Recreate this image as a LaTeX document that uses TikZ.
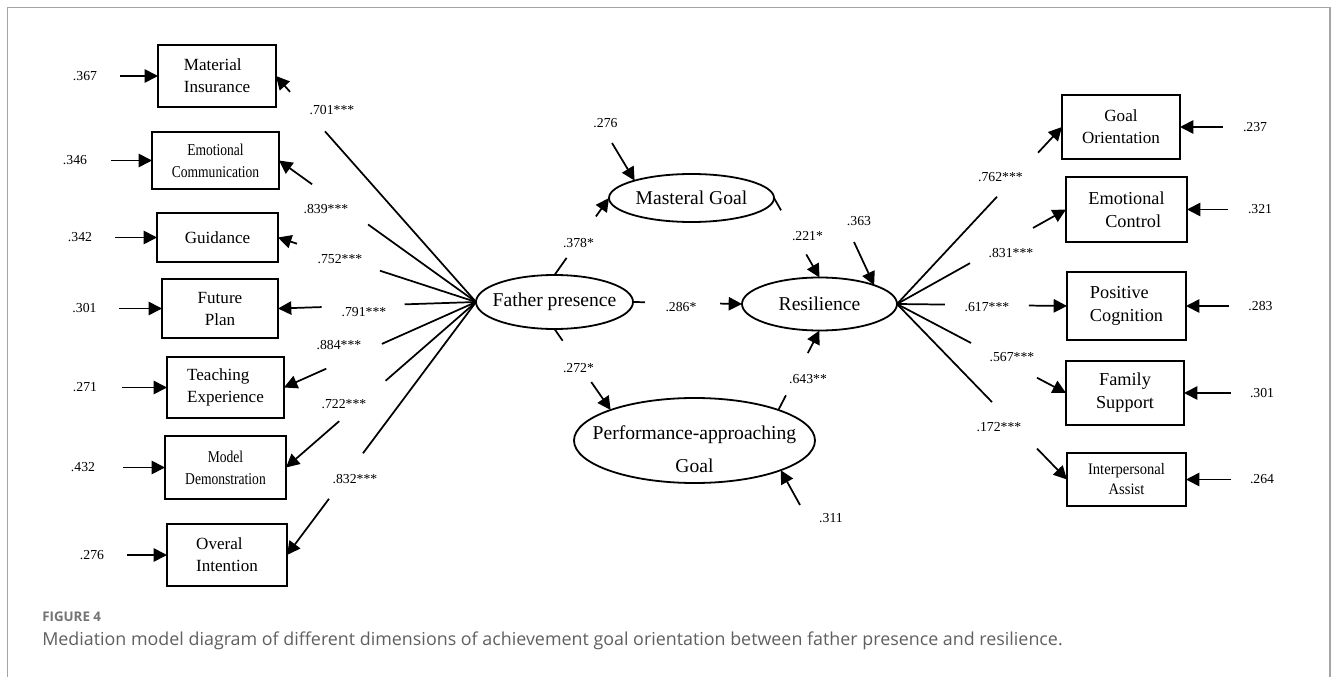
\documentclass[tikz,border=0pt]{standalone}
\usepackage{fontspec}
\setmainfont{Liberation Serif}
\newfontfamily\capfont{Open Sans}
\usepackage{graphicx}
\usetikzlibrary{arrows.meta,shapes.geometric,calc}
\definecolor{capgray}{RGB}{95,95,95}
\definecolor{figgray}{RGB}{115,115,115}
\definecolor{framegray}{RGB}{165,165,165}
\newcommand{\condtext}[2][0.82]{\scalebox{#1}[1]{#2}}

\begin{document}
\begin{tikzpicture}[x=0.75pt,y=0.75pt,yscale=-1,xscale=1,
  obsbox/.style={draw, line width=1.35pt, inner sep=0pt, outer sep=0pt, align=center, font=\fontsize{12.8}{16.5}\selectfont},
  rbox/.style={obsbox, font=\fontsize{13.7}{17.25}\selectfont},
  smallbox/.style={obsbox, font=\fontsize{12.4}{16.5}\selectfont},
  latent/.style={draw, ellipse, line width=1.35pt, inner sep=0pt, outer sep=0pt},
  lattext/.style={font=\fontsize{14.7}{24.75}\selectfont, align=center, inner sep=0pt},
  coef/.style={font=\fontsize{10.3}{12}\selectfont, inner sep=0pt},
  link/.style={line width=1.3pt},
  arr/.style={line width=1.3pt, -{Triangle[length=10pt,width=10pt]}}]
\useasboundingbox (0,0) rectangle (1331,677);

%Frame
\draw[framegray, line width=0.9pt] (7.5,677) -- (7.5,7.5) -- (1330,7.5) -- (1330,677);

%Latent variables
\node[latent, minimum width=117.75pt, minimum height=40.5pt, label={[lattext]center:Father presence}] (fp) at (554.5,302) {};
\node[latent, minimum width=123.75pt, minimum height=36pt, label={[lattext]center:Masteral Goal}] (mg) at (691.5,198) {};
\node[latent, minimum width=116.25pt, minimum height=39.75pt, label={[lattext]center:Resilience}] (res) at (819.5,304) {};
\node[latent, minimum width=180.75pt, minimum height=63.75pt, label={[lattext, yshift=-6.75pt]center:{Performance-approaching\\Goal}}] (pg) at (694.5,440.5) {};

%Left indicators
\node[obsbox, align=left, minimum width=88.5pt, minimum height=46.5pt] (mi) at (217,76) {Material\\Insurance};
\node[smallbox, minimum width=95.25pt, minimum height=42.75pt] (ec) at (215.5,160.5) {\condtext{Emotional}\\\condtext{Communication}};
\node[obsbox, minimum width=90.75pt, minimum height=36.75pt] (gu) at (217.5,237.5) {Guidance};
\node[obsbox, minimum width=87pt, minimum height=44.25pt] (fpl) at (220,308.5) {Future\\Plan};
\node[obsbox, align=left, minimum width=87.75pt, minimum height=45.75pt] (te) at (225.5,387.5) {Teaching\\Experience};
\node[smallbox, minimum width=90.75pt, minimum height=47.25pt] (md) at (225.5,467.5) {\condtext{Model}\\\condtext{Demonstration}};
\node[obsbox, align=left, minimum width=90pt, minimum height=46.5pt] (oi) at (227,555) {Overal\\Intention};

%Right indicators
\node[obsbox, minimum width=88.5pt, minimum height=48pt] (go) at (1121,127) {Goal\\Orientation};
\node[rbox, minimum width=90.75pt, minimum height=48.75pt] (ect) at (1126.5,209.5) {Emotional\\\hspace*{10pt}Control};
\node[rbox, align=left, minimum width=89.25pt, minimum height=51pt] (pc) at (1126.5,306) {Positive\\Cognition};
\node[rbox, minimum width=88.5pt, minimum height=48pt] (fs) at (1125,393) {Family\\Support};
\node[smallbox, font=\fontsize{12}{15}\selectfont, minimum width=89.25pt, minimum height=39.75pt] (ia) at (1126.5,479.5) {\condtext[0.91]{Interpersonal}\\\condtext[0.91]{Assist}};

%Loadings: father presence
\path (fp.west) -- coordinate[pos=.755] (mi1) coordinate[pos=.93] (mi2) (mi.east);
\draw[link] (fp.west) -- (mi1);
\draw[arr] (mi2) -- (mi.east);
\node[coef] (cmi) at (332,110) {.701***};

\path (fp.west) -- coordinate[pos=.548] (ec1) coordinate[pos=.832] (ec2) (ec.east);
\draw[link] (fp.west) -- (ec1);
\draw[arr] (ec2) -- (ec.east);
\node[coef] (cec) at (326,209) {.839***};

\path (fp.west) -- coordinate[pos=.485] (gu1) coordinate[pos=.904] (gu2) (gu.east);
\draw[link] (fp.west) -- (gu1);
\draw[arr] (gu2) -- (gu.east);
\node[coef] (cgu) at (340,259) {.752***};

\path (fp.west) -- coordinate[pos=.36] (fpl1) coordinate[pos=.78] (fpl2) (fpl.east);
\draw[link] (fp.west) -- (fpl1);
\draw[arr] (fpl2) -- (fpl.east);
\node[coef] (cfpl) at (364,312) {.791***};

\path (fp.west) -- coordinate[pos=.49] (te1) coordinate[pos=.78] (te2) (te.east);
\draw[link] (fp.west) -- (te1);
\draw[arr] (te2) -- (te.east);
\node[coef] (cte) at (339,345) {.884***};

\path (fp.west) -- coordinate[pos=.476] (md1) coordinate[pos=.72] (md2) (md.east);
\draw[link] (fp.west) -- (md1);
\draw[arr] (md2) -- (md.east);
\node[coef] (cmd) at (344,404) {.722***};

\path (fp.west) -- coordinate[pos=.598] (oi1) coordinate[pos=.778] (oi2) (oi.east);
\draw[link] (fp.west) -- (oi1);
\draw[arr] (oi2) -- (oi.east);
\node[coef] (coi) at (355,479) {.832***};

%Structural paths
\path (fp.north) -- coordinate[pos=.222] (p11) coordinate[pos=.76] (p12) (mg.west);
\draw[link] (fp.north) -- (p11);
\draw[arr] (p12) -- (mg.west);
\node[coef] (cp1) at (578.5,243) {.378*};

\path (fp.south) -- coordinate[pos=.145] (p21) coordinate[pos=.655] (p22) (pg.160);
\draw[link] (fp.south) -- (p21);
\draw[arr] (p22) -- (pg.160);
\node[coef] (cp2) at (578.5,368) {.272*};

\path (fp.east) -- coordinate[pos=.11] (p31) coordinate[pos=.80] (p32) (res.west);
\draw[link] (fp.east) -- (p31);
\draw[arr] (p32) -- (res.west);
\node[coef] (cp3) at (681,307) {.286*};

\path (mg.east) -- coordinate[pos=.155] (p41) coordinate[pos=.71] (p42) (res.north);
\draw[link] (mg.east) -- (p41);
\draw[arr] (p42) -- (res.north);
\node[coef] (cp4) at (807.5,236) {.221*};

\path (pg.20) -- coordinate[pos=.185] (p51) coordinate[pos=.716] (p52) (res.south);
\draw[link] (pg.20) -- (p51);
\draw[arr] (p52) -- (res.south);
\node[coef] (cp5) at (808,379) {.643**};

%Loadings: resilience
\path (res.east) -- coordinate[pos=.606] (go1) coordinate[pos=.855] (go2) (go.west);
\draw[link] (res.east) -- (go1);
\draw[arr] (go2) -- (go.west);
\node[coef] (cgo) at (1000.5,177) {.762***};

\path (res.east) -- coordinate[pos=.432] (ect1) coordinate[pos=.805] (ect2) (ect.west);
\draw[link] (res.east) -- (ect1);
\draw[arr] (ect2) -- (ect.west);
\node[coef] (cect) at (1011,253) {.831***};

\path (res.east) -- coordinate[pos=.282] (pc1) coordinate[pos=.776] (pc2) (pc.west);
\draw[link] (res.east) -- (pc1);
\draw[arr] (pc2) -- (pc.west);
\node[coef] (cpc) at (987,307) {.617***};

\path (res.east) -- coordinate[pos=.438] (fs1) coordinate[pos=.828] (fs2) (fs.west);
\draw[link] (res.east) -- (fs1);
\draw[arr] (fs2) -- (fs.west);
\node[coef] (cfs) at (1012,357) {.567***};

\path (res.east) -- coordinate[pos=.559] (ia1) coordinate[pos=.824] (ia2) (ia.west);
\draw[link] (res.east) -- (ia1);
\draw[arr] (ia2) -- (ia.west);
\node[coef] (cia) at (999,427) {.172***};

%Errors left
\node[coef] (emi) at (85,76) {.367};
\draw[arr] ($(emi.east)+(22.5,0)$) -- (mi.west);
\node[coef] (eec) at (75,160.5) {.346};
\draw[arr] ($(eec.east)+(23.5,0)$) -- (ec.west);
\node[coef] (egu) at (80,237.5) {.342};
\draw[arr] ($(egu.east)+(22.5,0)$) -- (gu.west);
\node[coef] (efpl) at (84.5,308.5) {.301};
\draw[arr] ($(efpl.east)+(22,0)$) -- (fpl.west);
\node[coef] (ete) at (85,387.5) {.271};
\draw[arr] ($(ete.east)+(24.5,0)$) -- (te.west);
\node[coef] (emd) at (83,467.5) {.432};
\draw[arr] ($(emd.east)+(27.5,0)$) -- (md.west);
\node[coef] (eoi) at (92,555) {.276};
\draw[arr] ($(eoi.east)+(22.5,0)$) -- (oi.west);

%Errors right
\node[coef] (ego) at (1255,127) {.237};
\draw[arr] ($(ego.west)+(-19.5,0)$) -- (go.east);
\node[coef] (eect) at (1260,209.5) {.321};
\draw[arr] ($(eect.west)+(-19.5,0)$) -- (ect.east);
\node[coef] (epc) at (1260.5,306) {.283};
\draw[arr] ($(epc.west)+(-19,0)$) -- (pc.east);
\node[coef] (efs) at (1262,393) {.301};
\draw[arr] ($(efs.west)+(-18.5,0)$) -- (fs.east);
\node[coef] (eia) at (1262,479.5) {.264};
\draw[arr] ($(eia.west)+(-18.5,0)$) -- (ia.east);

%Errors latent
\node[coef] (emg) at (605.5,123) {.276};
\draw[arr] ($(emg)+(6.5,20)$) -- (mg.163);
\node[coef] (eres) at (859,221) {.363};
\draw[arr] ($(eres)+(-5,21)$) -- (res.19);
\node[coef] (epg) at (831,518) {.311};
\draw[arr] ($(epg)+(-31,-13)$) -- (pg.341);

%Caption
\node[anchor=west, inner sep=0pt, text=figgray, font=\capfont\bfseries\fontsize{10}{12}\selectfont] (fig) at (42,617) {FIGURE 4};
\node[anchor=west, inner sep=0pt, text=capgray, font=\capfont\fontsize{13.4}{16}\selectfont] (cap) at (42,641) {Mediation model diagram of different dimensions of achievement goal orientation between father presence and resilience.};

\end{tikzpicture}
\end{document}
